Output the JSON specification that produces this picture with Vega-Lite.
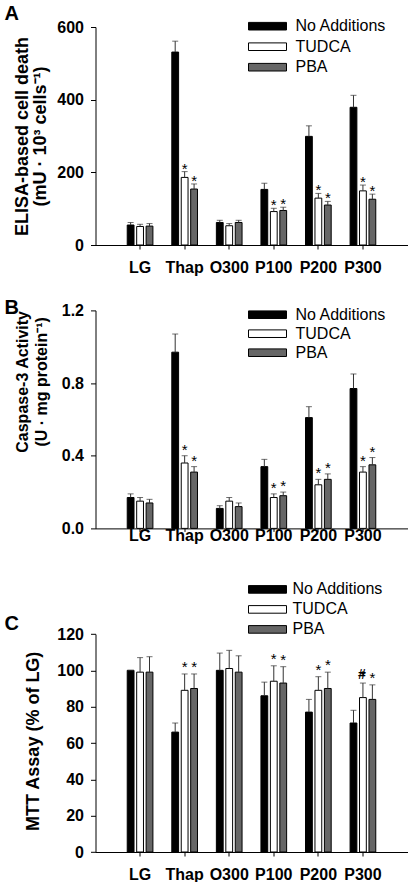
{
"$schema": "https://vega.github.io/schema/vega-lite/v6.json",
"padding": {"left": 4.5, "top": 4, "right": 0, "bottom": 0},
"background": "white",
"datasets": {
"A": [
{"group":"LG","treatment":"No Additions","value":55,"upper":62},
{"group":"LG","treatment":"TUDCA","value":51,"upper":57},
{"group":"LG","treatment":"PBA","value":52,"upper":59},
{"group":"Thap","treatment":"No Additions","value":531,"upper":561},
{"group":"Thap","treatment":"TUDCA","value":186,"upper":202,"sig":"*"},
{"group":"Thap","treatment":"PBA","value":154,"upper":168,"sig":"*"},
{"group":"O300","treatment":"No Additions","value":62,"upper":68},
{"group":"O300","treatment":"TUDCA","value":53,"upper":59},
{"group":"O300","treatment":"PBA","value":62,"upper":68},
{"group":"P100","treatment":"No Additions","value":153,"upper":170},
{"group":"P100","treatment":"TUDCA","value":92,"upper":101,"sig":"*"},
{"group":"P100","treatment":"PBA","value":95,"upper":104,"sig":"*"},
{"group":"P200","treatment":"No Additions","value":299,"upper":328},
{"group":"P200","treatment":"TUDCA","value":129,"upper":142,"sig":"*"},
{"group":"P200","treatment":"PBA","value":110,"upper":120,"sig":"*"},
{"group":"P300","treatment":"No Additions","value":379,"upper":412},
{"group":"P300","treatment":"TUDCA","value":149,"upper":165,"sig":"*"},
{"group":"P300","treatment":"PBA","value":126,"upper":140,"sig":"*"}
],
"B": [
{"group":"LG","treatment":"No Additions","value":0.17,"upper":0.19},
{"group":"LG","treatment":"TUDCA","value":0.15,"upper":0.17},
{"group":"LG","treatment":"PBA","value":0.14,"upper":0.16},
{"group":"Thap","treatment":"No Additions","value":0.97,"upper":1.07},
{"group":"Thap","treatment":"TUDCA","value":0.36,"upper":0.40,"sig":"*"},
{"group":"Thap","treatment":"PBA","value":0.31,"upper":0.34,"sig":"*"},
{"group":"O300","treatment":"No Additions","value":0.11,"upper":0.125},
{"group":"O300","treatment":"TUDCA","value":0.15,"upper":0.17},
{"group":"O300","treatment":"PBA","value":0.12,"upper":0.14},
{"group":"P100","treatment":"No Additions","value":0.34,"upper":0.38},
{"group":"P100","treatment":"TUDCA","value":0.17,"upper":0.19,"sig":"*"},
{"group":"P100","treatment":"PBA","value":0.18,"upper":0.20,"sig":"*"},
{"group":"P200","treatment":"No Additions","value":0.61,"upper":0.67},
{"group":"P200","treatment":"TUDCA","value":0.24,"upper":0.27,"sig":"*"},
{"group":"P200","treatment":"PBA","value":0.27,"upper":0.30,"sig":"*"},
{"group":"P300","treatment":"No Additions","value":0.77,"upper":0.85},
{"group":"P300","treatment":"TUDCA","value":0.31,"upper":0.34,"sig":"*"},
{"group":"P300","treatment":"PBA","value":0.35,"upper":0.39,"sig":"*"}
],
"C": [
{"group":"LG","treatment":"No Additions","value":100,"upper":100},
{"group":"LG","treatment":"TUDCA","value":99,"upper":107},
{"group":"LG","treatment":"PBA","value":99,"upper":107.5},
{"group":"Thap","treatment":"No Additions","value":66,"upper":71},
{"group":"Thap","treatment":"TUDCA","value":89,"upper":98,"sig":"*"},
{"group":"Thap","treatment":"PBA","value":90,"upper":98,"sig":"*"},
{"group":"O300","treatment":"No Additions","value":100,"upper":109.5},
{"group":"O300","treatment":"TUDCA","value":101,"upper":111},
{"group":"O300","treatment":"PBA","value":99,"upper":108},
{"group":"P100","treatment":"No Additions","value":86,"upper":93.5},
{"group":"P100","treatment":"TUDCA","value":94,"upper":102.5,"sig":"*"},
{"group":"P100","treatment":"PBA","value":93,"upper":102,"sig":"*"},
{"group":"P200","treatment":"No Additions","value":77,"upper":84},
{"group":"P200","treatment":"TUDCA","value":89,"upper":96.5,"sig":"*"},
{"group":"P200","treatment":"PBA","value":90,"upper":99,"sig":"*"},
{"group":"P300","treatment":"No Additions","value":71,"upper":78},
{"group":"P300","treatment":"TUDCA","value":85,"upper":93,"sig":"*","hash":"#"},
{"group":"P300","treatment":"PBA","value":84,"upper":92,"sig":"*"}
]
},
"vconcat": [
{
"width": 312, "height": 218,
"title": {"text": "A", "anchor": "start", "frame": "group", "dx": -91, "dy": 22, "offset": 0, "fontSize": 20, "fontWeight": "bold", "font": "Liberation Sans", "color": "#000", "baseline": "alphabetic"},
"data": {"name": "A"},
"encoding": {
"x": {"field": "group", "type": "nominal", "sort": ["LG","Thap","O300","P100","P200","P300"], "scale": {"paddingInner": 0, "paddingOuter": 0.5}, "axis": {"title": null, "labelAngle": 0, "tickSize": 4, "labelPadding": 10}},
"xOffset": {"field": "treatment", "type": "nominal", "sort": ["No Additions","TUDCA","PBA"], "scale": {"paddingInner": 0.28, "paddingOuter": 1.115}}
},
"layer": [
{"mark": {"type": "bar", "stroke": "#000", "strokeWidth": 1},
 "encoding": {
  "y": {"field": "value", "type": "quantitative", "scale": {"domain": [0, 600], "nice": false}, "axis": {"title": ["ELISA-based cell death", "(mU · 10³ cells⁻¹)"], "values": [0,100,200,300,400,500,600], "labelOverlap": false, "titleX": -73, "titleBaseline": "middle", "titleLineHeight": 18, "titleFontSize": 18}},
  "fill": {"field": "treatment", "type": "nominal", "sort": ["No Additions","TUDCA","PBA"], "scale": {"domain": ["No Additions","TUDCA","PBA"], "range": ["#000000","#ffffff","#666666"]},
   "legend": {"title": null, "orient": "none", "legendX": 164, "legendY": -8.8, "symbolType": "M-4.75,-0.95L4.75,-0.95L4.75,0.95L-4.75,0.95Z", "symbolSize": 64, "symbolStrokeColor": "#000", "symbolStrokeWidth": 1, "labelFontSize": 16, "labelFont": "Liberation Sans", "labelColor": "#000", "labelOffset": 20, "rowPadding": 4.5, "padding": 0}}
 }},
{"mark": {"type": "rule", "color": "#333", "strokeWidth": 1},
 "encoding": {"y": {"field": "value", "type": "quantitative", "scale": {"domain": [0, 600], "nice": false}}, "y2": {"field": "upper"}}},
{"mark": {"type": "tick", "orient": "horizontal", "color": "#333", "size": 6, "thickness": 1},
 "encoding": {"y": {"field": "upper", "type": "quantitative", "scale": {"domain": [0, 600], "nice": false}}}},
{"transform": [{"filter": "datum.sig"}],
 "mark": {"type": "text", "fontSize": 15, "font": "Liberation Sans", "color": "#000", "baseline": "alphabetic", "align": "center", "dy": 2},
 "encoding": {"y": {"field": "upper", "type": "quantitative", "scale": {"domain": [0, 600], "nice": false}}, "text": {"field": "sig"}}}
]
},
{
"width": 312, "height": 218,
"title": {"text": "B", "anchor": "start", "frame": "group", "dx": -91, "dy": 31.5, "offset": 0, "fontSize": 20, "fontWeight": "bold", "font": "Liberation Sans", "color": "#000", "baseline": "alphabetic"},
"data": {"name": "B"},
"encoding": {
"x": {"field": "group", "type": "nominal", "sort": ["LG","Thap","O300","P100","P200","P300"], "scale": {"paddingInner": 0, "paddingOuter": 0.5}, "axis": {"title": null, "labelAngle": 0, "tickSize": 3, "labelPadding": -3.5}},
"xOffset": {"field": "treatment", "type": "nominal", "sort": ["No Additions","TUDCA","PBA"], "scale": {"paddingInner": 0.28, "paddingOuter": 1.115}}
},
"layer": [
{"mark": {"type": "bar", "stroke": "#000", "strokeWidth": 1},
 "encoding": {
  "y": {"field": "value", "type": "quantitative", "scale": {"domain": [0, 1.2], "nice": false}, "axis": {"title": ["Caspase-3 Activity", "(U · mg protein⁻¹)"], "values": [0,0.2,0.4,0.6,0.8,1.0,1.2], "labelOverlap": false, "format": ".1f", "titleX": -73.5, "titleY": 71, "titleBaseline": "middle", "titleLineHeight": 19, "titleFontSize": 16}},
  "fill": {"field": "treatment", "type": "nominal", "sort": ["No Additions","TUDCA","PBA"], "scale": {"domain": ["No Additions","TUDCA","PBA"], "range": ["#000000","#ffffff","#666666"]},
   "legend": {"title": null, "orient": "none", "legendX": 164, "legendY": -3.7, "symbolType": "M-4.75,-0.95L4.75,-0.95L4.75,0.95L-4.75,0.95Z", "symbolSize": 64, "symbolStrokeColor": "#000", "symbolStrokeWidth": 1, "labelFontSize": 16, "labelFont": "Liberation Sans", "labelColor": "#000", "labelOffset": 20, "rowPadding": 3, "padding": 0}}
 }},
{"mark": {"type": "rule", "color": "#333", "strokeWidth": 1},
 "encoding": {"y": {"field": "value", "type": "quantitative", "scale": {"domain": [0, 1.2], "nice": false}}, "y2": {"field": "upper"}}},
{"mark": {"type": "tick", "orient": "horizontal", "color": "#333", "size": 6, "thickness": 1},
 "encoding": {"y": {"field": "upper", "type": "quantitative", "scale": {"domain": [0, 1.2], "nice": false}}}},
{"transform": [{"filter": "datum.sig"}],
 "mark": {"type": "text", "fontSize": 15, "font": "Liberation Sans", "color": "#000", "baseline": "alphabetic", "align": "center", "dy": -1},
 "encoding": {"y": {"field": "upper", "type": "quantitative", "scale": {"domain": [0, 1.2], "nice": false}}, "text": {"field": "sig"}}}
]
},
{
"width": 312, "height": 258.2,
"title": {"text": "C", "anchor": "start", "frame": "group", "dx": -91, "dy": 69, "offset": 0, "fontSize": 20, "fontWeight": "bold", "font": "Liberation Sans", "color": "#000", "baseline": "alphabetic"},
"data": {"name": "C"},
"encoding": {
"x": {"field": "group", "type": "nominal", "sort": ["LG","Thap","O300","P100","P200","P300"], "scale": {"paddingInner": 0, "paddingOuter": 0.5}, "axis": {"title": null, "labelAngle": 0, "tickSize": 4, "labelPadding": 10}},
"xOffset": {"field": "treatment", "type": "nominal", "sort": ["No Additions","TUDCA","PBA"], "scale": {"paddingInner": 0.28, "paddingOuter": 1.115}}
},
"layer": [
{"mark": {"type": "bar", "stroke": "#000", "strokeWidth": 1},
 "encoding": {
  "y": {"field": "value", "type": "quantitative", "scale": {"domain": [0, 120], "nice": false, "range": [258.2, 40.2]}, "axis": {"title": "MTT Assay (% of LG)", "values": [0,20,40,60,80,100,120], "labelOverlap": false, "titleX": -62.5, "titleY": 147, "titleBaseline": "middle", "titleFontSize": 18}},
  "fill": {"field": "treatment", "type": "nominal", "sort": ["No Additions","TUDCA","PBA"], "scale": {"domain": ["No Additions","TUDCA","PBA"], "range": ["#000000","#ffffff","#666666"]},
   "legend": {"title": null, "orient": "none", "legendX": 164, "legendY": -12.4, "symbolType": "M-4.75,-0.95L4.75,-0.95L4.75,0.95L-4.75,0.95Z", "symbolSize": 64, "symbolStrokeColor": "#000", "symbolStrokeWidth": 1, "labelFontSize": 16, "labelFont": "Liberation Sans", "labelColor": "#000", "labelOffset": 17, "rowPadding": 4, "padding": 0}}
 }},
{"mark": {"type": "rule", "color": "#333", "strokeWidth": 1},
 "encoding": {"y": {"field": "value", "type": "quantitative", "scale": {"domain": [0, 120], "nice": false, "range": [258.2, 40.2]}}, "y2": {"field": "upper"}}},
{"mark": {"type": "tick", "orient": "horizontal", "color": "#333", "size": 6, "thickness": 1},
 "encoding": {"y": {"field": "upper", "type": "quantitative", "scale": {"domain": [0, 120], "nice": false, "range": [258.2, 40.2]}}}},
{"transform": [{"filter": "datum.sig"}],
 "mark": {"type": "text", "fontSize": 15, "font": "Liberation Sans", "color": "#000", "baseline": "alphabetic", "align": "center", "dy": -2},
 "encoding": {"y": {"field": "upper", "type": "quantitative", "scale": {"domain": [0, 120], "nice": false, "range": [258.2, 40.2]}}, "text": {"field": "sig"}}},
{"transform": [{"filter": "datum.hash"}],
 "mark": {"type": "text", "fontSize": 14, "font": "Liberation Sans", "fontWeight": "bold", "color": "#000", "baseline": "alphabetic", "align": "center", "dy": -4, "dx": -1},
 "encoding": {"y": {"field": "upper", "type": "quantitative", "scale": {"domain": [0, 120], "nice": false, "range": [258.2, 40.2]}}, "text": {"field": "hash"}}}
]
}
],
"spacing": 65.4,
"bounds": "flush",
"resolve": {"scale": {"fill": "independent"}, "legend": {"fill": "independent"}},
"config": {
"font": "Liberation Sans",
"view": {"stroke": null},
"axis": {"grid": false, "domainColor": "#000", "tickColor": "#000", "labelColor": "#000", "titleColor": "#000", "labelFont": "Liberation Sans", "titleFont": "Liberation Sans", "labelFontWeight": "bold", "titleFontWeight": "bold", "labelFontSize": 16, "titleFontSize": 18, "domainWidth": 1, "tickWidth": 1},
"axisY": {"tickSize": 5, "labelPadding": 7},
"legend": {"labelFontWeight": "normal"}
}
}
